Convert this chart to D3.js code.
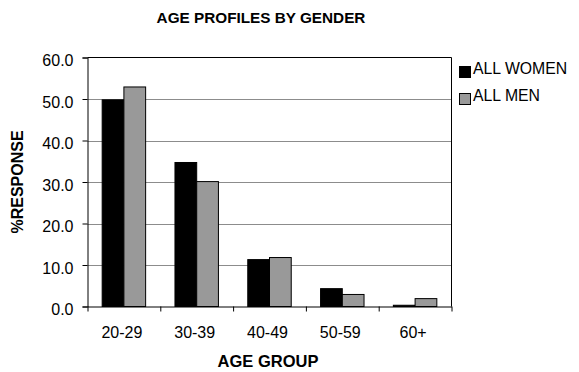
<!DOCTYPE html>
<html><head><meta charset="utf-8">
<script src="https://cdn.jsdelivr.net/npm/d3@7"></script>
<style>body{margin:0;background:#fff}svg{display:block;font-family:"Liberation Sans",Arial,sans-serif}</style>
</head><body><svg id="c" width="579" height="372"></svg>
<script>
const categories = ["20-29","30-39","40-49","50-59","60+"];
const seriesNames = ["ALL WOMEN","ALL MEN"];
const women = [49.8, 34.7, 11.3, 4.3, 0.3];
const men = [52.9, 30.1, 11.8, 2.9, 1.9];
const yTicks = [0,10,20,30,40,50,60];
const colors = ["#000000","#999999"];

const svg = d3.select("#c");
const L = 87.5, R = 451.5, T = 57.5, B = 306.5;
const x = d3.scaleBand().domain(categories).range([L, R]).paddingInner(0).paddingOuter(0);
const xs = d3.scaleBand().domain(seriesNames).range([0, x.bandwidth()]).paddingInner(0).paddingOuter(0.675);
const y = d3.scaleLinear().domain([0,60]).range([B, T]);

// gridlines
svg.append("g").selectAll("line").data(yTicks.filter(v=>v>0 && v<60)).join("line")
  .attr("x1", L).attr("x2", R).attr("y1", d=>Math.round(y(d))+0.5).attr("y2", d=>Math.round(y(d))+0.5)
  .attr("stroke", "#8c8c8c").attr("stroke-width", 1);

// bars
const data = [women, men];
const g = svg.append("g");
categories.forEach((c,i)=>{
  seriesNames.forEach((s,j)=>{
    const v = data[j][i];
    g.append("rect")
      .attr("x", x(c)+xs(s)).attr("width", xs.bandwidth())
      .attr("y", y(v)).attr("height", B - y(v))
      .attr("fill", colors[j]).attr("stroke", "#000").attr("stroke-width", 1);
  });
});

// plot border top/right
svg.append("line").attr("x1", L).attr("x2", R).attr("y1", T).attr("y2", T).attr("stroke","#000");
svg.append("line").attr("x1", R).attr("x2", R).attr("y1", T).attr("y2", B).attr("stroke","#000");

// y axis
const yAxis = d3.axisLeft(y).tickValues(yTicks).tickFormat(d3.format(".1f")).tickSize(5).tickPadding(9);
const ya = svg.append("g").attr("transform", `translate(${L},0)`).call(yAxis);
ya.select(".domain").attr("stroke","#000");
ya.selectAll("text").attr("font-size", 16).attr("fill","#000").attr("font-family","Liberation Sans, Arial, sans-serif").attr("dy","0.5em");

// x axis boundary ticks
const edges = categories.map(c=>x(c)).concat([R]);
const xEdge = d3.scaleLinear().domain([L,R]).range([L,R]);
const xa = svg.append("g").attr("transform", `translate(0,${B})`)
  .call(d3.axisBottom(xEdge).tickValues(edges).tickFormat("").tickSize(5).tickSizeOuter(0));
xa.select(".domain").attr("stroke","#000");
// x labels
const xl = svg.append("g").attr("transform", `translate(0,${B})`)
  .call(d3.axisBottom(x).tickSize(0).tickPadding(0));
xl.select(".domain").remove();
xl.selectAll("text").attr("font-size", 16).attr("fill","#000").attr("font-family","Liberation Sans, Arial, sans-serif")
  .attr("dy", null).attr("y", 31).attr("dx","-2");

// titles
svg.append("text").attr("x", 261).attr("y", 23).attr("text-anchor","middle")
  .attr("font-weight","bold").attr("font-size", 15.3).text("AGE PROFILES BY GENDER");
svg.append("text").attr("x", 268).attr("y", 367).attr("text-anchor","middle")
  .attr("font-weight","bold").attr("font-size", 16.5).text("AGE GROUP");
svg.append("text").attr("transform","translate(23,182) rotate(-90)").attr("text-anchor","middle")
  .attr("font-weight","bold").attr("font-size", 16).text("%RESPONSE");

// legend
const lg = svg.append("g");
seriesNames.forEach((s,j)=>{
  const yy = 74 + j*27;
  lg.append("rect").attr("x", 459.5).attr("y", yy-7.5).attr("width", 11).attr("height", 11)
    .attr("fill", colors[j]).attr("stroke","#000");
  lg.append("text").attr("x", 473).attr("y", yy).attr("font-size", 15.8).text(s);
});
</script></body></html>
